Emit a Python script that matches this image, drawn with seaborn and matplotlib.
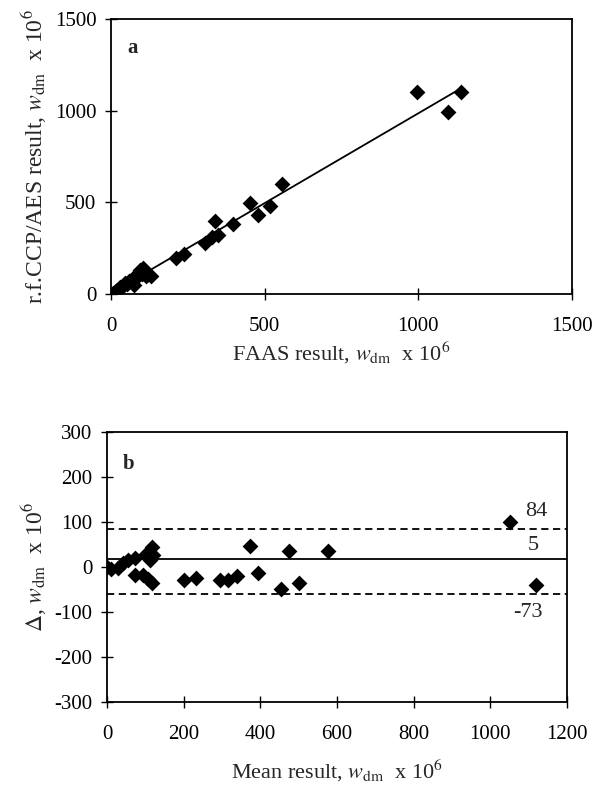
import numpy as np
import pandas as pd
import matplotlib
matplotlib.use("Agg")
import matplotlib.pyplot as plt
import seaborn as sns

# Panel a: FAAS vs r.f.CCP/AES
faas = [5, 10, 15, 20, 25, 30, 38, 45, 52, 58, 65, 72, 75, 80, 85, 90, 95, 100, 105, 110, 115, 120, 130,
        212, 238, 306, 328, 340, 349, 398, 453, 478, 516, 557, 996, 1095, 1139]
ccp = [5, 8, 15, 22, 30, 38, 45, 58, 55, 70, 75, 80, 50, 85, 100, 120, 130, 110, 140, 125, 100, 110, 96,
       196, 220, 278, 311, 396, 324, 384, 495, 433, 478, 600, 1102, 993, 1102]

# Panel b: Bland-Altman
mean_res = [0, 11, 29, 42, 55, 72, 72, 94, 103, 107, 112, 118, 118, 120,
            202, 231, 294, 316, 340, 373, 394, 455, 475, 502, 577, 1050, 1120]
delta = [-1, -4, -3, 8, 16, 19, -18, -18, 29, -27, 16, 45, -36, 27,
         -29, -24, -29, -29, -21, 47, -13, -48, 35, -35, 35, 100, -41]
limit_values = [84, 17, -61]
limit_labels = ["84", "5", "-73"]
limit_styles = ["--", "-", "--"]

sns.set_theme(style="white")
plt.rcParams["font.family"] = ["Liberation Serif", "DejaVu Serif"]
plt.rcParams["mathtext.fontset"] = "stix"
plt.rcParams["axes.unicode_minus"] = False

fig = plt.figure(figsize=(5.94, 7.89), dpi=100)
axa = fig.add_axes([111 / 594, 1 - 294 / 789, 461 / 594, 275 / 789])
axb = fig.add_axes([107 / 594, 1 - 702 / 789, 460 / 594, 270 / 789])

dfa = pd.DataFrame({"x": faas, "y": ccp})
sns.regplot(data=dfa, x="x", y="y", ax=axa, ci=None, marker="D",
            scatter_kws=dict(s=65, color="black", alpha=1, linewidths=0),
            line_kws=dict(color="black", lw=1.3))
axa.set_xlim(0, 1500)
axa.set_ylim(0, 1500)
axa.set_xticks([0, 500, 1000, 1500])
axa.set_yticks([0, 500, 1000, 1500])
axa.set_xlabel(r"FAAS result, $w_{\mathrm{dm}}$  x 10$^6$", fontsize=16, labelpad=3)
axa.set_ylabel(r"r.f.CCP/AES result, $w_{\mathrm{dm}}$  x 10$^6$", fontsize=17, labelpad=4)
axa.text(0.035, 0.895, "a", transform=axa.transAxes, fontsize=15, fontweight="bold", va="center")

dfb = pd.DataFrame({"m": mean_res, "d": delta})
for v, ls in zip(limit_values, limit_styles):
    axb.axhline(v, color="black", lw=1.3, ls=ls, dashes=(4, 2.5) if ls == "--" else (None, None))
sns.scatterplot(data=dfb, x="m", y="d", ax=axb, marker="D", s=65, color="black", linewidth=0, zorder=3)
axb.set_xlim(0, 1200)
axb.set_ylim(-300, 300)
axb.set_xticks(range(0, 1201, 200))
axb.set_yticks(range(-300, 301, 100))
axb.set_xlabel(r"Mean result, $w_{\mathrm{dm}}$  x 10$^6$", fontsize=16, labelpad=10)
axb.set_ylabel(r"$\Delta$, $w_{\mathrm{dm}}$  x 10$^6$", fontsize=17, labelpad=4)
axb.text(0.035, 0.88, "b", transform=axb.transAxes, fontsize=15, fontweight="bold", va="center")
for (lx, ly), lab in zip([(1120, 124), (1112, 47), (1098, -102)], limit_labels):
    axb.text(lx, ly, lab, fontsize=16, ha="center", va="center")

for ax in (axa, axb):
    for s in ax.spines.values():
        s.set_color("black")
        s.set_linewidth(1.3)
    ax.tick_params(axis="both", direction="inout", length=9, width=1, colors="black",
                   labelsize=15, bottom=True, left=True)
    ax.tick_params(axis="y", pad=6)
    ax.tick_params(axis="x", pad=12)

fig.savefig("out.png", dpi=100)
